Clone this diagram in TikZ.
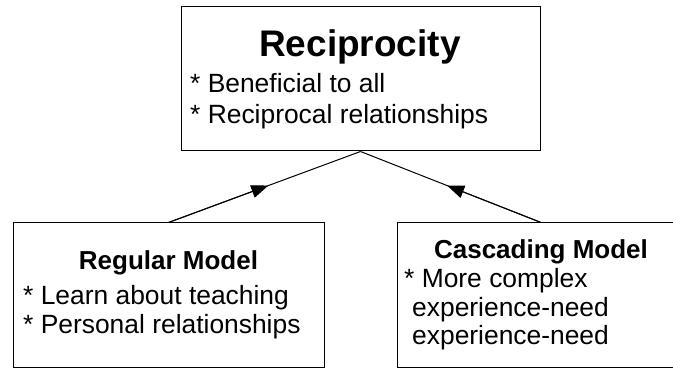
\documentclass[tikz,border=0pt]{standalone}
\usepackage{fontspec}
\setmainfont{Liberation Sans}
\usetikzlibrary{arrows.meta, calc}

\tikzset{
  box/.style={draw, line width=1pt, inner sep=0pt},
  title/.style={font=\fontsize{37}{40}\selectfont\bfseries, anchor=base, inner sep=0pt},
  heading/.style={font=\fontsize{26}{30}\selectfont\bfseries, anchor=base, inner sep=0pt},
  item/.style={font=\fontsize{26.4}{30}\selectfont, anchor=base west, inner sep=0pt},
  link/.style={line width=1pt},
  halfarrow/.style={line width=1pt, -{Triangle[length=17pt, width=13pt]}}
}

\begin{document}
\begin{tikzpicture}[x=1pt, y=1pt]
\clip (0,0) rectangle (673,369);

% the three boxes
\node[box, minimum width=359pt, minimum height=144pt] (recip) at (360.5,290) {};
\node[box, minimum width=311pt, minimum height=145pt] (regular) at (168.5,73.5) {};
\node[box, minimum width=288pt, minimum height=145pt] (cascade) at (541,73.5) {};

% top box text
\node[title] (recipT) at (360,312) {Reciprocity};
\node[item] (recipA) at (190,276) {* Beneficial to all};
\node[item] (recipB) at (190,245) {* Reciprocal relationships};

% left box text
\node[heading] (regularT) at (168.5,99) {Regular Model};
\node[item] (regularA) at (23,64) {* Learn about teaching};
\node[item] (regularB) at (23,35) {* Personal relationships};

% right box text
\node[heading] (cascadeT) at (541,110) {Cascading Model};
\node[item] (cascadeA) at (404,81) {* More complex};
\node[item] (cascadeB) at (412,52) {experience-need};
\node[item] (cascadeC) at (412,24) {experience-need};

% connectors, arrow head half way
\draw[link] (regular.north) -- (recip.south);
\draw[link] (cascade.north) -- (recip.south);
\draw[halfarrow] (regular.north) -- ($(regular.north)!0.52!(recip.south)$);
\draw[halfarrow] (cascade.north) -- ($(cascade.north)!0.52!(recip.south)$);
\end{tikzpicture}
\end{document}
